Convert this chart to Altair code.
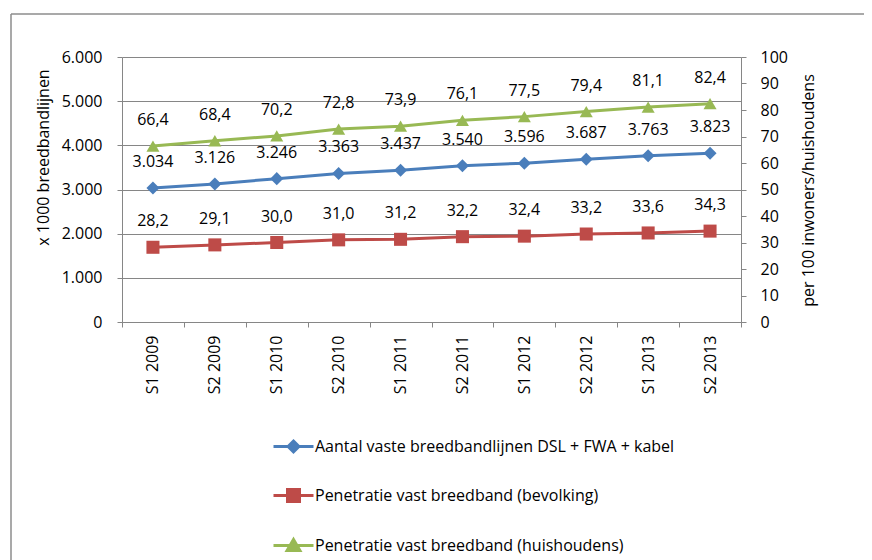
import altair as alt
import pandas as pd

categories = ["S1 2009", "S2 2009", "S1 2010", "S2 2010", "S1 2011",
              "S2 2011", "S1 2012", "S2 2012", "S1 2013", "S2 2013"]
lines_total = [3034, 3126, 3246, 3363, 3437, 3540, 3596, 3687, 3763, 3823]
pen_bevolking = [28.2, 29.1, 30.0, 31.0, 31.2, 32.2, 32.4, 33.2, 33.6, 34.3]
pen_huishoudens = [66.4, 68.4, 70.2, 72.8, 73.9, 76.1, 77.5, 79.4, 81.1, 82.4]
series_names = ["Aantal vaste breedbandlijnen DSL + FWA + kabel",
                "Penetratie vast breedband (bevolking)",
                "Penetratie vast breedband (huishoudens)"]
colors = ["#4A7EBB", "#BE4B48", "#98B954"]
marker_shapes = ["diamond", "square", "triangle-up"]
legend_paths = ["M-1,0H1M0,-0.27L0.27,0L0,0.27L-0.27,0Z",
                "M-1,0H1M-0.3,-0.3H0.3V0.3H-0.3Z",
                "M-1,0H1M0,-0.3L0.32,0.25L-0.32,0.25Z"]
left_ticks = [0, 1000, 2000, 3000, 4000, 5000, 6000]
right_ticks = [0, 10, 20, 30, 40, 50, 60, 70, 80, 90, 100]

FONT = "Open Sans"
GRAY = "#868686"

df = pd.DataFrame({
    "cat": categories * 3,
    "series": [series_names[0]] * 10 + [series_names[1]] * 10 + [series_names[2]] * 10,
    "value": lines_total + pen_bevolking + pen_huishoudens,
})
base = alt.Chart(df)

x_enc = alt.X("cat:N", sort=categories,
              scale=alt.Scale(type="band", paddingInner=0, paddingOuter=0),
              axis=alt.Axis(title=None, labelAngle=270, labelAlign="right",
                            labelBaseline="middle", tickBand="extent",
                            labelPadding=8, grid=False))

y_left = alt.Y("value:Q", scale=alt.Scale(domain=[0, 6000]),
               axis=alt.Axis(orient="left", values=left_ticks, grid=True,
                             labelExpr="replace(format(datum.value, ','), ',', '.')",
                             title="x 1000 breedbandlijnen", labelPadding=15,
                             titleAngle=270, titleX=-79, titleY=100,
                             titleAlign="center", titleBaseline="middle"))
y_right = alt.Y("value:Q", scale=alt.Scale(domain=[0, 100]),
                axis=alt.Axis(orient="right", values=right_ticks, grid=False,
                              title="per 100 inwoners/huishoudens", labelPadding=14,
                              titleAngle=270, titleX=67, titleY=133,
                              titleAlign="center", titleBaseline="middle"))


def series_layers(idx, y_enc, fmt_expr):
    src = base.transform_filter(alt.datum.series == series_names[idx])
    line = src.mark_line(color=colors[idx], strokeWidth=3).encode(x=x_enc, y=y_enc)
    pts = src.mark_point(shape=marker_shapes[idx], filled=True, color=colors[idx],
                         size=170, opacity=1).encode(x=x_enc, y=y_enc)
    txt = src.transform_calculate(label=fmt_expr).mark_text(
        dy=-26, fontSize=16, font=FONT, color="black", baseline="middle"
    ).encode(x=x_enc, y=y_enc, text="label:N")
    return [line, pts, txt]


fmt_int = "replace(format(datum.value, ','), ',', '.')"
fmt_dec = "replace(format(datum.value, '.1f'), '.', ',')"

left = alt.layer(*series_layers(0, y_left, fmt_int))
right = alt.layer(*series_layers(1, y_right, fmt_dec), *series_layers(2, y_right, fmt_dec))

legend = alt.Legend(orient="none", legendX=150, legendY=368, direction="vertical",
                    title=None, symbolSize=1600, symbolStrokeWidth=3, rowPadding=16,
                    labelOffset=0, labelFontSize=16, labelFont=FONT, labelColor="black",
                    labelLimit=600, padding=0)
legend_layer = base.transform_filter("false").mark_point(
    filled=True, strokeWidth=3, opacity=1
).encode(
    fill=alt.Fill("series:N", scale=alt.Scale(domain=series_names, range=colors), legend=legend),
    stroke=alt.Stroke("series:N", scale=alt.Scale(domain=series_names, range=colors), legend=legend),
    shape=alt.Shape("series:N", scale=alt.Scale(domain=series_names, range=legend_paths), legend=legend),
)

one = alt.Data(values=[{"k": 1}])
border_left = alt.Chart(one).mark_rule(color="#8c8c8c", strokeWidth=1.5).encode(
    x=alt.value(-111), y=alt.value(-43), y2=alt.value(700))
border_top = alt.Chart(one).mark_rule(color="#8c8c8c", strokeWidth=1.5).encode(
    x=alt.value(-111), x2=alt.value(900), y=alt.value(-43))

chart = alt.layer(left, right, legend_layer, border_left, border_top).resolve_scale(
    y="independent"
).properties(
    width=619, height=265,
    autosize=alt.AutoSizeParams(type="none"),
    padding={"left": 114, "top": 49, "right": 123, "bottom": 238},
).configure_view(stroke=None).configure_axis(
    domainColor=GRAY, tickColor=GRAY, gridColor=GRAY, tickSize=5,
    labelFont=FONT, labelFontSize=16, labelColor="black",
    titleFont=FONT, titleFontSize=16, titleFontWeight="normal", titleColor="black",
)

chart.save("out.html", embed_options={"renderer": "svg", "actions": False})
